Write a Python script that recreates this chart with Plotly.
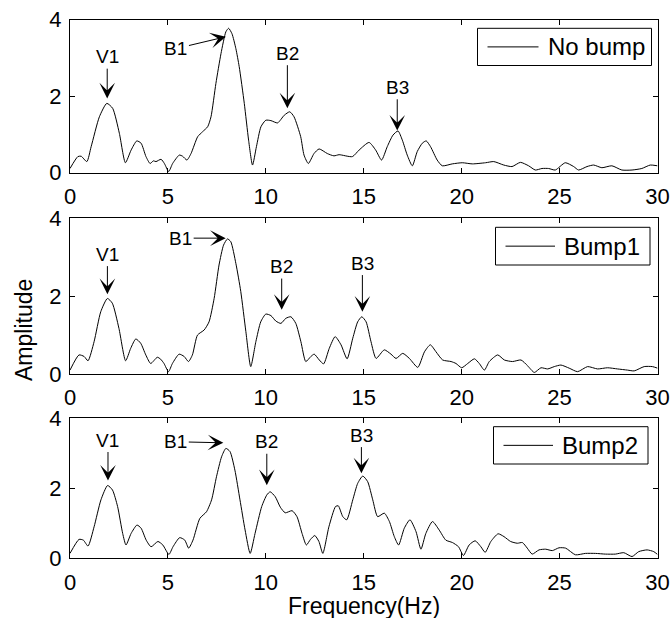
import plotly.graph_objects as go

# Amplitude spectra of the three road cases (frequency in Hz)
freq_nobump = [0.0, 0.4, 0.57, 0.86, 1.08, 1.5, 1.88, 2.18, 2.52, 2.83, 3.12, 3.41, 3.63, 3.88, 4.09, 4.26,
               4.39, 4.65, 4.82, 5.04, 5.24, 5.58, 5.75, 5.97, 6.18, 6.52, 6.77, 7.03, 7.2, 7.45, 7.71, 7.96,
               8.1, 8.27, 8.47, 8.64, 8.9, 9.12, 9.32, 9.52, 9.75, 10.0, 10.26, 10.6, 10.94, 11.22, 11.44,
               11.78, 11.95, 12.17, 12.46, 12.72, 13.14, 13.48, 13.74, 14.42, 14.76, 15.27, 15.61, 15.91,
               16.2, 16.49, 16.75, 16.97, 17.22, 17.48, 17.73, 17.99, 18.19, 18.41, 18.75, 19.01, 19.52,
               20.03, 20.54, 21.22, 21.64, 22.15, 22.57, 23.0, 23.42, 23.76, 24.1, 24.44, 24.78, 25.29,
               25.72, 25.97, 26.4, 26.74, 27.16, 27.67, 28.18, 28.7, 29.2, 29.63, 30.0]
amp_nobump = [0.11, 0.42, 0.43, 0.29, 0.68, 1.46, 1.81, 1.68, 1.03, 0.26, 0.59, 0.83, 0.77, 0.42, 0.24, 0.31,
              0.29, 0.35, 0.24, 0.03, 0.24, 0.46, 0.43, 0.33, 0.5, 0.94, 1.07, 1.2, 1.46, 2.33, 3.11, 3.68,
              3.77, 3.63, 3.24, 2.77, 1.81, 0.85, 0.2, 0.68, 1.2, 1.37, 1.36, 1.3, 1.5, 1.59, 1.46,
              0.94, 0.46, 0.24, 0.5, 0.62, 0.5, 0.44, 0.47, 0.42, 0.59, 0.79, 0.59, 0.33,
              0.68, 0.98, 1.09, 0.85, 0.46, 0.18, 0.55, 0.77, 0.83, 0.68, 0.33, 0.18, 0.23,
              0.26, 0.23, 0.26, 0.29, 0.2, 0.16, 0.27, 0.18, 0.07, 0.11, 0.11, 0.07, 0.26,
              0.16, 0.07, 0.16, 0.2, 0.13, 0.18, 0.07, 0.07, 0.11, 0.2, 0.18]

freq_bump1 = [0.0, 0.46, 0.72, 0.92, 1.23, 1.57, 1.91, 2.16, 2.5, 2.84, 3.1, 3.36, 3.61, 3.87, 4.12, 4.46,
              4.63, 4.8, 5.03, 5.23, 5.57, 5.83, 6.05, 6.25, 6.51, 6.85, 7.1, 7.36, 7.61, 7.84, 8.04, 8.21,
              8.47, 8.72, 8.98, 9.23, 9.49, 9.74, 10.0, 10.26, 10.51, 10.77, 11.02, 11.28, 11.53, 11.79,
              12.04, 12.3, 12.47, 12.73, 12.95, 13.24, 13.54, 13.84, 14.15, 14.44, 14.69, 14.9, 15.12,
              15.37, 15.63, 16.05, 16.39, 16.65, 16.99, 17.33, 17.76, 18.1, 18.4, 18.69, 19.03, 19.46,
              19.71, 20.0, 20.31, 20.65, 20.9, 21.16, 21.41, 21.84, 22.18, 22.6, 23.03, 23.37, 23.71,
              24.05, 24.39, 24.73, 25.07, 25.49, 25.92, 26.43, 26.94, 27.45, 27.96, 28.47, 28.81,
              29.32, 29.74, 30.0]
amp_bump1 = [0.1, 0.49, 0.45, 0.34, 0.83, 1.6, 1.94, 1.82, 1.17, 0.34, 0.66, 0.9, 0.79, 0.49, 0.27, 0.43,
             0.38, 0.27, 0.06, 0.27, 0.51, 0.45, 0.32, 0.49, 1.0, 1.13, 1.34, 1.94, 2.8, 3.31, 3.47, 3.4,
             2.84, 2.12, 1.09, 0.19, 0.83, 1.34, 1.54, 1.5, 1.36, 1.3, 1.43, 1.47, 1.3, 0.83,
             0.32, 0.45, 0.51, 0.36, 0.26, 0.66, 0.96, 0.75, 0.39, 0.92, 1.34, 1.47, 1.34,
             0.83, 0.4, 0.62, 0.51, 0.4, 0.53, 0.4, 0.17, 0.57, 0.75, 0.57, 0.36, 0.32,
             0.27, 0.16, 0.27, 0.39, 0.27, 0.1, 0.32, 0.49, 0.36, 0.32, 0.36, 0.21, 0.04,
             0.16, 0.13, 0.19, 0.23, 0.15, 0.06, 0.19, 0.13, 0.16, 0.13, 0.1, 0.08,
             0.19, 0.19, 0.15]

freq_bump2 = [0.0, 0.46, 0.68, 0.92, 1.23, 1.58, 1.92, 2.17, 2.43, 2.69, 2.86, 3.12, 3.42, 3.63, 3.89, 4.14,
              4.49, 4.74, 5.05, 5.26, 5.6, 5.86, 6.06, 6.28, 6.63, 6.97, 7.23, 7.48, 7.74, 7.96, 8.17,
              8.42, 8.68, 8.94, 9.2, 9.45, 9.79, 10.05, 10.22, 10.48, 10.74, 10.99, 11.34, 11.59, 11.85,
              12.07, 12.28, 12.5, 12.71, 12.91, 13.22, 13.56, 13.7, 13.93, 14.13, 14.44, 14.69, 14.95,
              15.2, 15.46, 15.71, 16.05, 16.31, 16.56, 16.78, 17.07, 17.36, 17.67, 17.92, 18.17, 18.51,
              18.85, 19.19, 19.53, 19.84, 20.09, 20.38, 20.69, 20.98, 21.2, 21.49, 21.86, 22.16, 22.5,
              22.84, 23.1, 23.35, 23.6, 23.95, 24.29, 24.63, 24.97, 25.31, 25.81, 26.32, 26.83, 27.34,
              27.85, 28.28, 28.7, 29.04, 29.47, 29.81, 30.0]
amp_bump2 = [0.14, 0.54, 0.52, 0.35, 0.9, 1.67, 2.08, 1.95, 1.48, 0.71, 0.38, 0.71, 0.95, 0.86, 0.52, 0.33,
             0.48, 0.38, 0.11, 0.33, 0.59, 0.52, 0.29, 0.52, 1.14, 1.33, 1.67, 2.33, 2.9, 3.14, 3.05,
             2.52, 1.67, 0.81, 0.14, 0.71, 1.48, 1.81, 1.9, 1.76, 1.46, 1.3, 1.36, 1.19, 0.71,
             0.38, 0.54, 0.65, 0.48, 0.14, 0.9, 1.48, 1.5, 1.19, 1.1, 1.67, 2.14, 2.35,
             2.19, 1.67, 1.19, 1.29, 1.05, 0.62, 0.38, 0.86, 1.1, 0.76, 0.26, 0.71, 1.05,
             0.81, 0.52, 0.45, 0.33, 0.08, 0.38, 0.5, 0.33, 0.17, 0.48, 0.7, 0.62, 0.48,
             0.43, 0.45, 0.29, 0.12, 0.24, 0.26, 0.22, 0.3, 0.29, 0.1, 0.14, 0.14, 0.12,
             0.12, 0.16, 0.05, 0.19, 0.24, 0.19, 0.11]

series_names = ["No bump", "Bump1", "Bump2"]

# Peak labels per panel: (label, tip freq, tip amp, text freq, text amp)
peak_labels = [
    [("V1", 1.9, 1.94, 1.9, 3.03), ("B1", 7.96, 3.55, 5.41, 3.24),
     ("B2", 11.1, 1.68, 11.1, 3.12), ("B3", 16.71, 1.1, 16.71, 2.23)],
    [("V1", 1.91, 2.05, 1.91, 3.08), ("B1", 7.95, 3.49, 5.65, 3.49),
     ("B2", 10.81, 1.65, 10.81, 2.76), ("B3", 14.93, 1.6, 14.93, 2.85)],
    [("V1", 1.94, 2.22, 1.94, 3.38), ("B1", 7.83, 3.3, 5.4, 3.33),
     ("B2", 10.05, 2.09, 10.05, 3.33), ("B3", 14.88, 2.43, 14.88, 3.52)],
]

x_ticks = [0, 5, 10, 15, 20, 25, 30]
y_ticks = [0, 2, 4]

W, H = 672, 618
FONT = "Liberation Sans, Arial, sans-serif"

# panel placement in pixels: (top, bottom)
panel_px = [(19.5, 172.7), (218.3, 374.0), (418.3, 558.3)]
x_left, x_right = 70.0, 657.5

# legend boxes in pixels: (left, right, top, bottom, sample line end)
legend_box_px = [(477.5, 651.5, 28.3, 65.5, 538.5),
                 (495.5, 650.0, 227.3, 265.0, 555.0),
                 (493.5, 648.0, 426.7, 464.0, 553.0)]


def px_x(v):
    return v / W


def px_y(v):
    return 1 - v / H


fig = go.Figure()
freqs = [freq_nobump, freq_bump1, freq_bump2]
amps = [amp_nobump, amp_bump1, amp_bump2]

for i in range(3):
    sfx = "" if i == 0 else str(i + 1)
    fig.add_trace(go.Scatter(
        x=freqs[i], y=amps[i], mode="lines", name=series_names[i],
        line=dict(color="black", width=1, shape="spline", smoothing=0.6),
        xaxis="x" + sfx, yaxis="y" + sfx, showlegend=False,
    ))

axis_common = dict(
    showline=True, linecolor="black", linewidth=1, mirror="ticks",
    ticks="inside", ticklen=5, tickwidth=1, tickcolor="black",
    showgrid=False, zeroline=False, automargin=False,
    tickfont=dict(family=FONT, size=22, color="black"),
)

layout = dict(
    template="none",
    width=W, height=H, autosize=False,
    margin=dict(l=0, r=0, t=0, b=0, pad=0),
    paper_bgcolor="white", plot_bgcolor="white",
    font=dict(family=FONT, color="black"),
    showlegend=False,
    annotations=[], shapes=[],
)

for i, (top, bot) in enumerate(panel_px):
    sfx = "" if i == 0 else str(i + 1)
    layout["xaxis" + sfx] = dict(
        axis_common, domain=[px_x(x_left), px_x(x_right)], range=[0, 30],
        tickvals=x_ticks, anchor="y" + sfx, ticklabelstandoff=4,
    )
    layout["yaxis" + sfx] = dict(
        axis_common, domain=[px_y(bot), px_y(top)], range=[0, 4],
        tickvals=y_ticks, anchor="x" + sfx, ticklabelstandoff=3,
    )
    for (lab, tx, ty, ax, ay) in peak_labels[i]:
        layout["annotations"].append(dict(
            x=tx, y=ty, ax=ax, ay=ay,
            xref="x" + sfx, yref="y" + sfx, axref="x" + sfx, ayref="y" + sfx,
            text=lab, showarrow=True, arrowhead=3, arrowsize=2.6,
            arrowwidth=1, arrowcolor="black", standoff=0,
            font=dict(family=FONT, size=19, color="black"),
        ))

    # boxed legend entry for this panel
    bl, br, bt, bb, line_end = legend_box_px[i]
    ymid = (bt + bb) / 2
    layout["shapes"].append(dict(
        type="rect", xref="paper", yref="paper",
        x0=px_x(bl), x1=px_x(br), y0=px_y(bb), y1=px_y(bt),
        line=dict(color="black", width=1), fillcolor="white", layer="above",
    ))
    layout["shapes"].append(dict(
        type="line", xref="paper", yref="paper",
        x0=px_x(bl + 10), x1=px_x(line_end), y0=px_y(ymid), y1=px_y(ymid),
        line=dict(color="black", width=1), layer="above",
    ))
    layout["annotations"].append(dict(
        text=series_names[i], xref="paper", yref="paper",
        x=px_x(line_end + 7), y=px_y(ymid), xanchor="left", yanchor="middle",
        showarrow=False, font=dict(family=FONT, size=24, color="black"),
    ))

layout["annotations"].append(dict(
    text="Amplitude", x=px_x(24), y=px_y(330), xref="paper", yref="paper",
    showarrow=False, textangle=-90, xanchor="center", yanchor="middle",
    font=dict(family=FONT, size=23, color="black"),
))
layout["annotations"].append(dict(
    text="Frequency(Hz)", x=px_x((x_left + x_right) / 2), y=px_y(606),
    xref="paper", yref="paper", showarrow=False,
    xanchor="center", yanchor="middle", borderpad=0,
    font=dict(family=FONT, size=23, color="black"),
))

fig.update_layout(**layout)
fig.write_html("out.html",
               post_script="document.body.style.margin='0px';")
